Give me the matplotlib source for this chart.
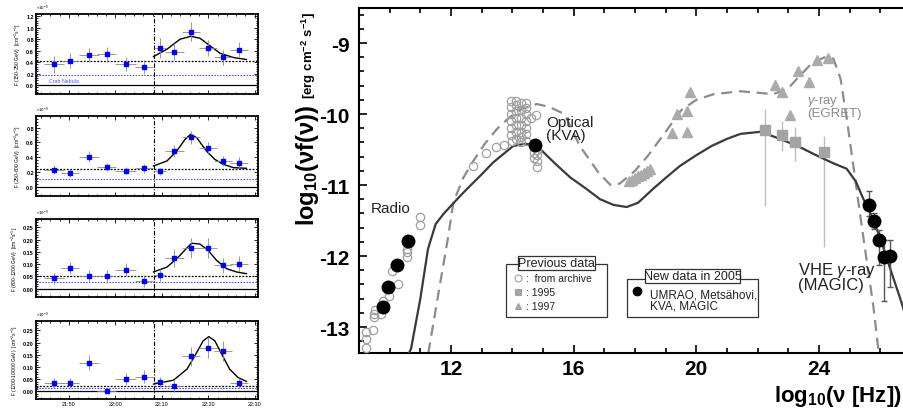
import numpy as np
import matplotlib
matplotlib.use("Agg")
import matplotlib.pyplot as plt
from matplotlib.ticker import MultipleLocator, FixedLocator, FormatStrFormatter
from matplotlib.patches import Rectangle
from matplotlib.lines import Line2D

plt.rcParams['font.family'] = ['Liberation Sans', 'DejaVu Sans']
plt.rcParams['mathtext.fontset'] = 'custom'
plt.rcParams['mathtext.rm'] = 'Liberation Sans'
plt.rcParams['mathtext.bf'] = 'Liberation Sans:bold'
plt.rcParams['mathtext.it'] = 'Liberation Sans:italic'

#==================================================================================================================
# light curves (minutes after 21:00 UT, flux in 1e-9 cm-2 s-1)
#==================================================================================================================
lc_t = [46.8, 50.2, 54.3, 58.1, 62.2, 66.2, 69.6, 72.7, 76.3, 79.9, 83.2, 86.6]
lc_terr = [2.1, 2.0, 2.1, 2.0, 2.2, 1.9, 1.2, 2.1, 2.0, 1.9, 2.0, 2.0]
time_labels = ["21:50", "22:00", "22:10", "22:20", "22:30"]
time_ticks = [50, 60, 70, 80, 90]
flare_start = 68.4

bands = ["150-250 GeV", "250-600 GeV", "600-1200 GeV", "1200-10000 GeV"]

flux_b1 = [0.36, 0.42, 0.52, 0.54, 0.36, 0.32, 0.64, 0.58, 0.93, 0.64, 0.48, 0.61]
ferr_b1 = [0.15, 0.13, 0.125, 0.127, 0.124, 0.124, 0.17, 0.15, 0.17, 0.135, 0.13, 0.13]
fit_t_b1 = [68.2, 71.1, 73.9, 76.2, 78.2, 80.4, 82.5, 85.4, 88.2]
fit_f_b1 = [0.496, 0.623, 0.796, 0.848, 0.814, 0.681, 0.554, 0.479, 0.444]

flux_b2 = [0.23, 0.19, 0.41, 0.27, 0.22, 0.25, 0.21, 0.48, 0.67, 0.53, 0.35, 0.33]
ferr_b2 = [0.06, 0.05, 0.07, 0.06, 0.05, 0.06, 0.05, 0.08, 0.09, 0.08, 0.07, 0.07]
fit_t_b2 = [68.2, 71.1, 73.2, 75.0, 76.2, 77.5, 79.6, 81.4, 83.2, 85.4, 88.2]
fit_f_b2 = [0.283, 0.351, 0.485, 0.643, 0.710, 0.665, 0.485, 0.373, 0.306, 0.261, 0.252]

flux_b3 = [0.042, 0.084, 0.051, 0.050, 0.078, 0.030, 0.054, 0.126, 0.165, 0.166, 0.095, 0.101]
ferr_b3 = [0.022, 0.025, 0.025, 0.025, 0.027, 0.025, 0.027, 0.037, 0.042, 0.042, 0.032, 0.031]
fit_t_b3 = [68.2, 71.1, 73.2, 75.0, 76.4, 78.2, 80.0, 81.8, 84.0, 86.1, 88.2]
fit_f_b3 = [0.068, 0.088, 0.122, 0.158, 0.185, 0.182, 0.155, 0.115, 0.081, 0.068, 0.061]

flux_b4 = [0.034, 0.034, 0.118, 0.003, 0.052, 0.061, 0.039, 0.023, 0.143, 0.179, 0.166, 0.033]
ferr_b4 = [0.022, 0.020, 0.032, 0.005, 0.025, 0.025, 0.022, 0.025, 0.040, 0.042, 0.042, 0.020]
fit_t_b4 = [68.2, 72.5, 75.4, 77.5, 78.9, 80.1, 81.4, 82.9, 84.6, 86.4, 88.2]
fit_f_b4 = [0.030, 0.046, 0.091, 0.159, 0.207, 0.224, 0.207, 0.152, 0.091, 0.057, 0.041]

baseline = [0.415, 0.247, 0.051, 0.023]
crab = [0.173, 0.103, 0.026, 0.016]

#==================================================================================================================
# SED data (log10 nu [Hz], log10 nuF_nu [erg cm-2 s-1])
#==================================================================================================================
arch_x = [11.0, 11.0, 10.57, 10.57, 10.57, 10.08, 10.26, 9.99, 9.77, 9.72, 9.52, 9.50, 9.72, 9.50,
          9.45, 9.23, 9.23, 9.23,
          12.71, 13.14, 13.47, 13.73, 13.99, 14.77, 14.62,
          13.96, 13.96, 13.96, 13.96, 13.96, 13.96,
          14.12, 14.12, 14.12, 14.12, 14.12, 14.12, 14.12,
          14.28, 14.28, 14.28, 14.28, 14.28, 14.28, 14.28,
          14.45, 14.45, 14.45, 14.45, 14.45, 14.45, 14.45,
          14.82, 14.82, 14.82, 14.82, 14.72, 14.72]
arch_y = [-11.45, -11.56, -11.90, -11.95, -12.01, -12.21, -12.39, -12.56, -12.63, -12.69, -12.76, -12.82, -12.82, -12.86,
          -13.04, -13.07, -13.17, -13.29,
          -10.73, -10.55, -10.47, -10.44, -10.38, -10.02, -10.05,
          -9.82, -9.90, -10.00, -10.10, -10.20, -10.30,
          -9.82, -9.88, -9.96, -10.05, -10.15, -10.25, -10.35,
          -9.85, -9.95, -10.05, -10.15, -10.25, -10.32, -10.40,
          -9.85, -9.92, -10.00, -10.10, -10.20, -10.28, -10.38,
          -10.50, -10.58, -10.66, -10.75, -10.55, -10.62]

sq95_x = [22.23, 22.78, 23.23, 24.15]
sq95_y = [-10.22, -10.30, -10.40, -10.53]
sq95_hi = [-9.93, -10.10, -10.18, -10.31]
sq95_lo = [-11.30, -10.52, -10.66, -11.87]

tri97_x = [17.80, 17.90, 18.00, 18.10, 18.20, 18.30, 18.40, 18.50,
           19.20, 19.36, 19.68, 19.70, 19.78,
           22.55, 22.80, 23.04, 23.33, 23.66, 23.95, 24.28]
tri97_y = [-10.95, -10.93, -10.90, -10.88, -10.86, -10.83, -10.80, -10.77,
           -10.27, -10.00, -9.96, -10.25, -9.69,
           -9.59, -9.69, -10.01, -9.39, -9.55, -9.24, -9.21]

new_x = [9.78, 9.95, 10.24, 10.60, 14.73, 25.63, 25.78, 25.96, 26.12, 26.30]
new_y = [-12.72, -12.44, -12.13, -11.79, -10.44, -11.28, -11.50, -11.78, -12.02, -12.00]
magic_x = [25.63, 25.78, 25.96, 26.12, 26.30]
magic_y = [-11.28, -11.50, -11.78, -12.02, -12.00]
magic_elo = [0.15, 0.12, 0.35, 0.62, 0.44]
magic_ehi = [0.19, 0.10, 0.15, 0.25, 0.22]

model05_x = [10.60, 10.70, 11.00, 11.25, 11.50, 11.77, 12.20, 12.51, 13.00, 13.38, 14.03, 14.40, 14.70,
             14.90, 15.40, 15.88, 16.40, 16.86, 17.30, 17.73, 18.10, 18.60, 19.00, 19.47, 20.00, 20.50,
             21.00, 21.44, 22.10, 22.60, 23.30, 24.00, 24.50, 24.90, 25.20, 25.45, 25.70, 26.00, 26.30,
             26.65, 27.00]
model05_y = [-13.40, -13.30, -12.60, -11.90, -11.55, -11.40, -11.20, -11.06, -10.85, -10.68, -10.45, -10.42, -10.43,
             -10.49, -10.70, -10.89, -11.05, -11.20, -11.28, -11.31, -11.25, -11.05, -10.90, -10.73, -10.58, -10.45,
             -10.35, -10.28, -10.25, -10.33, -10.45, -10.60, -10.70, -10.77, -10.95, -11.20, -11.42, -11.75, -12.15,
             -12.60, -13.10]

model97_x = [11.26, 11.60, 11.90, 12.08, 12.40, 12.70, 13.10, 13.50, 13.90, 14.30, 14.80, 15.20, 15.70,
             16.20, 16.80, 17.20, 17.50, 18.00, 18.40, 19.00, 19.50, 20.00, 20.57, 21.44, 22.00, 22.50,
             22.97, 23.40, 23.80, 24.20, 24.47, 24.70, 24.90, 25.12, 25.40, 25.77, 25.95]
model97_y = [-13.37, -12.50, -11.75, -11.24, -10.90, -10.68, -10.42, -10.21, -10.05, -9.93, -9.86, -9.90, -10.00,
             -10.45, -10.82, -11.00, -10.98, -10.80, -10.60, -10.25, -9.95, -9.80, -9.72, -9.68, -9.70, -9.72,
             -9.65, -9.45, -9.27, -9.20, -9.22, -9.50, -10.05, -10.73, -11.60, -12.70, -13.37]

W, H = 904, 414


def px(x, y):
    """Return figure fraction from pixel position (origin top left)."""
    return x / W, 1 - y / H

#==================================================================================================================

def light_curve(fig, rect, flux, ferr, fit_t, fit_f, band, base, crab_lvl, ylim, ystep, fmt, bottom, crab_label):
    ax = fig.add_axes(rect)
    ax.set_xlim(42.9, 90.7)
    ax.set_ylim(*ylim)
    ax.axhline(0, color='black', lw=0.9)
    ax.axhline(base, color='black', lw=0.9, ls=(0, (1.5, 1.2)))
    ax.axhline(crab_lvl, color='#3a3aff', lw=0.7, ls=(0, (1.5, 1.5)))
    ax.axvline(flare_start, color='black', lw=0.8, ls=(0, (4, 1.5, 1, 1.5)))
    ax.plot(fit_t, fit_f, color='black', lw=1.0)
    ax.errorbar(lc_t, flux, xerr=lc_terr, yerr=ferr, fmt='s', ms=2.2, color='#0000ee',
                ecolor='#888888', elinewidth=0.6, capsize=0)
    if crab_label:
        ax.text(45.8, crab_lvl - 0.03 * (ylim[1] - ylim[0]), "Crab Nebula", color='#5050ff',
                fontsize=3.8, va='top')
    ax.xaxis.set_major_locator(FixedLocator(time_ticks))
    ax.xaxis.set_minor_locator(MultipleLocator(2))
    ax.yaxis.set_major_locator(MultipleLocator(ystep))
    ax.yaxis.set_minor_locator(MultipleLocator(ystep / 5))
    ax.yaxis.set_major_formatter(FormatStrFormatter(fmt))
    ax.tick_params(which='both', direction='in', top=True, right=True, labelsize=4, width=0.6, pad=1.5)
    ax.tick_params(which='major', length=3)
    ax.tick_params(which='minor', length=1.5)
    for lab in ax.get_yticklabels():
        lab.set_fontweight('bold')
    if bottom:
        ax.set_xticklabels(time_labels, fontsize=4)
    else:
        ax.set_xticklabels([])
    for sp in ax.spines.values():
        sp.set_linewidth(1.3)
    ax.set_ylabel(f"F ({band})  [cm$^{{-2}}$s$^{{-1}}$]", fontsize=3.6, labelpad=2)
    ax.text(0.0, 1.02, r"$\times$10$^{-9}$", transform=ax.transAxes, fontsize=3.2, va='bottom', ha='left')
    return ax

#==================================================================================================================

def sed_panel(fig):
    ax = fig.add_axes([359 / W, 60 / H, 552 / W, 345 / H])
    ax.set_xlim(9, 27)
    ax.set_ylim(-13.366, -8.507)

    ax.plot(model97_x, model97_y, color='#8c8c8c', lw=1.6, ls=(0, (5, 3)), zorder=2)
    ax.plot(model05_x, model05_y, color='#3a3a3a', lw=1.6, zorder=3)

    ax.vlines(sq95_x, sq95_lo, sq95_hi, color='#bdbdbd', lw=1.0, zorder=1)
    ax.plot(arch_x, arch_y, 'o', ms=6, mfc='none', mec='#a0a0a0', mew=0.9, zorder=4)
    ax.plot(sq95_x, sq95_y, 's', ms=7.5, color='#a3a3a3', zorder=4)
    ax.plot(tri97_x, tri97_y, '^', ms=7, color='#ababab', zorder=4)
    ax.errorbar(magic_x, magic_y, yerr=[magic_elo, magic_ehi], fmt='none', ecolor='#555555',
                elinewidth=1.0, capsize=2.5, capthick=1.0, zorder=5)
    ax.plot(new_x, new_y, 'o', ms=9, color='black', zorder=6)

    ax.text(9.38, -11.32, "Radio", fontsize=11, va='center', ha='left', color='#222222')
    ax.text(15.1, -10.02, "Optical\n(KVA)", fontsize=11, va='top', ha='left', color='#222222',
            linespacing=0.9)
    ax.text(23.6, -9.70, "$\\gamma$-ray\n(EGRET)", fontsize=9.5, va='top', ha='left', color='#8c8c8c',
            linespacing=0.9)
    ax.text(23.3, -12.05, "VHE $\\gamma$-ray\n(MAGIC)", fontsize=12, va='top', ha='left', color='#222222',
            linespacing=0.85)

    ax.xaxis.set_major_locator(MultipleLocator(4))
    ax.xaxis.set_minor_locator(MultipleLocator(1))
    ax.yaxis.set_major_locator(MultipleLocator(1))
    ax.yaxis.set_minor_locator(MultipleLocator(0.2))
    ax.yaxis.set_major_formatter(FormatStrFormatter('%d'))
    ax.tick_params(which='both', direction='in', top=True, right=False, labelsize=15, width=1.2)
    ax.tick_params(which='major', length=6, pad=4)
    ax.tick_params(axis='y', which='major', pad=7)
    ax.tick_params(which='minor', length=3.5)
    for lab in ax.get_xticklabels() + ax.get_yticklabels():
        lab.set_fontweight('bold')
    ax.spines['right'].set_visible(False)
    for sp in ['left', 'bottom', 'top']:
        ax.spines[sp].set_linewidth(1.5)
    return ax

#==================================================================================================================

def legend_boxes(fig):
    # previous data
    x0, y0 = px(506, 318)
    x1, y1 = px(607, 265)
    fig.add_artist(Rectangle((x0, y0), x1 - x0, y1 - y0, transform=fig.transFigure,
                             fill=False, ec='#333333', lw=0.9))
    tx0, ty0 = px(518, 271)
    tx1, ty1 = px(595, 257)
    fig.add_artist(Rectangle((tx0, ty0), tx1 - tx0, ty1 - ty0, transform=fig.transFigure,
                             fc='white', ec='#333333', lw=0.9))
    fig.text(*px(556.5, 264), "Previous data", fontsize=9, ha='center', va='center', color='#222222')
    entries = [('o', 'none', ":  from archive", 279), ('s', '#a3a3a3', ": 1995", 293), ('^', '#ababab', ": 1997", 307)]
    for mk, fc, txt, yy in entries:
        mx, my = px(518, yy)
        fig.add_artist(Line2D([mx], [my], marker=mk, ms=5, mfc=fc, mec='#a0a0a0', mew=0.8,
                              transform=fig.transFigure))
        fig.text(*px(526, yy), txt, fontsize=7.5, ha='left', va='center', color='#222222')

    # new data
    x0, y0 = px(627, 318)
    x1, y1 = px(758, 280)
    fig.add_artist(Rectangle((x0, y0), x1 - x0, y1 - y0, transform=fig.transFigure,
                             fill=False, ec='#333333', lw=0.9))
    tx0, ty0 = px(645, 284)
    tx1, ty1 = px(740, 270)
    fig.add_artist(Rectangle((tx0, ty0), tx1 - tx0, ty1 - ty0, transform=fig.transFigure,
                             fc='white', ec='#333333', lw=0.9))
    fig.text(*px(692.5, 277), "New data in 2005", fontsize=9, ha='center', va='center', color='#222222')
    mx, my = px(637, 292)
    fig.add_artist(Line2D([mx], [my], marker='o', ms=6, color='black', transform=fig.transFigure))
    fig.text(*px(650, 301), "UMRAO, Metsähovi,\nKVA, MAGIC", fontsize=8.5, ha='left', va='center',
             color='#222222', linespacing=0.95)

#==================================================================================================================

def main():
    fig = plt.figure(figsize=(W / 100, H / 100), dpi=100)

    panels = [
        (15, 95, flux_b1, ferr_b1, fit_t_b1, fit_f_b1, (-0.155, 1.235), 0.2, '%.1f'),
        (117, 197, flux_b2, ferr_b2, fit_t_b2, fit_f_b2, (-0.121, 0.957), 0.2, '%.1f'),
        (220, 298, flux_b3, ferr_b3, fit_t_b3, fit_f_b3, (-0.034, 0.284), 0.05, '%.2f'),
        (322, 400, flux_b4, ferr_b4, fit_t_b4, fit_f_b4, (-0.031, 0.288), 0.05, '%.2f'),
    ]
    for i, (top, bot, fl, fe, ft, ff, yl, ys, fmt) in enumerate(panels):
        rect = [36 / W, 1 - bot / H, 222 / W, (bot - top) / H]
        light_curve(fig, rect, fl, fe, ft, ff, bands[i], baseline[i], crab[i], yl, ys, fmt,
                    bottom=(i == 3), crab_label=(i == 0))

    sed_panel(fig)
    legend_boxes(fig)

    fig.text(*px(314, 226), r"$\mathbf{log_{10}(\nu f(\nu))}$", fontsize=17, rotation=90,
             rotation_mode='anchor', ha='left', va='baseline')
    fig.text(*px(313, 99), r"$\mathbf{[erg\ cm^{-2}\ s^{-1}]}$", fontsize=9.5, rotation=90,
             rotation_mode='anchor', ha='left', va='baseline')
    fig.text(*px(902, 402), r"$\mathbf{log_{10}(\nu\ [Hz])}$", fontsize=16, ha='right', va='baseline')

    fig.savefig("out.png", dpi=100)


if __name__ == "__main__":
    main()
